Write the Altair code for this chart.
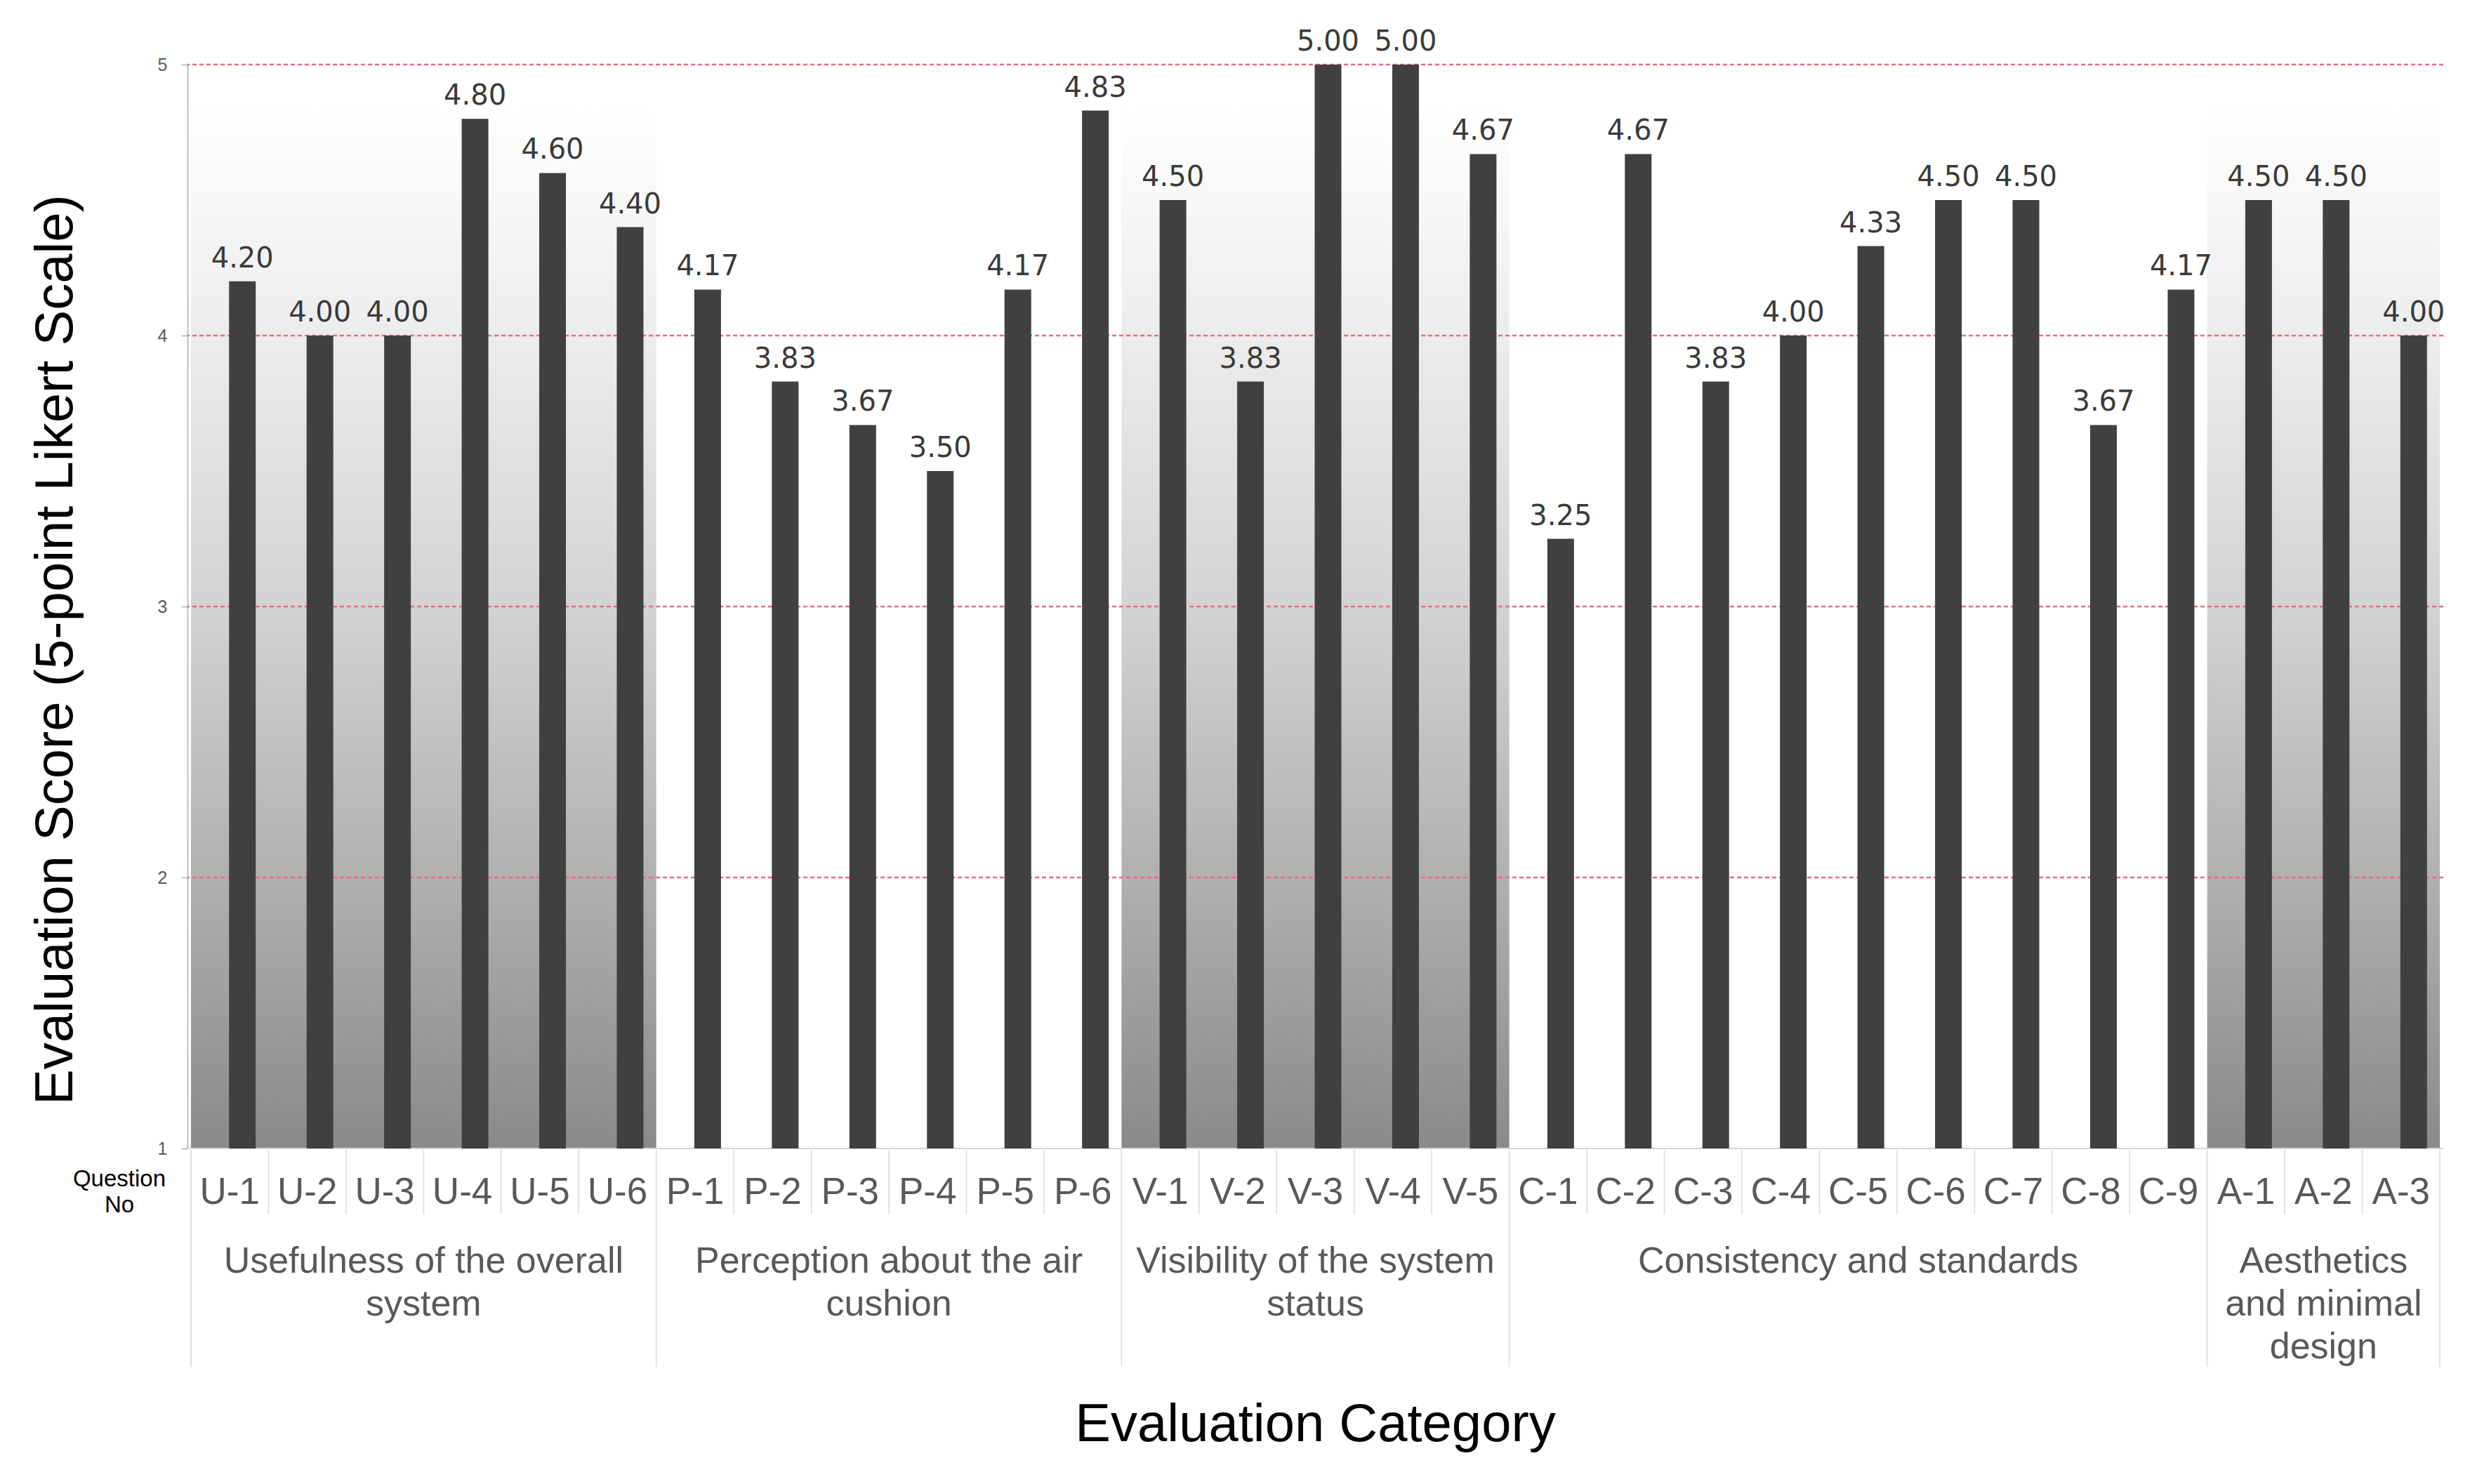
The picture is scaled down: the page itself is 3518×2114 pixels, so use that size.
import altair as alt
import pandas as pd

# ---------------- data ----------------
group_names = [
    "Usefulness of the overall\nsystem",
    "Perception about the air\ncushion",
    "Visibility of the system\nstatus",
    "Consistency and standards",
    "Aesthetics\nand minimal\ndesign",
]
group_prefix = ["U", "P", "V", "C", "A"]
group_shaded = [True, False, True, False, True]

scores_U = [4.20, 4.00, 4.00, 4.80, 4.60, 4.40]
scores_P = [4.17, 3.83, 3.67, 3.50, 4.17, 4.83]
scores_V = [4.50, 3.83, 5.00, 5.00, 4.67]
scores_C = [3.25, 4.67, 3.83, 4.00, 4.33, 4.50, 4.50, 3.67, 4.17]
scores_A = [4.50, 4.50, 4.00]
group_scores = [scores_U, scores_P, scores_V, scores_C, scores_A]

y_tick_values = [1, 2, 3, 4, 5]
grid_values = [2, 3, 4, 5]

y_title = "Evaluation Score (5-point Likert Scale)"
x_title = "Evaluation Category"
row_header = "Question\nNo"

# ---------------- tables ----------------
bar_rows, band_rows, sep_rows = [], [], []
idx = 0
for g, (name, pre, shade, vals) in enumerate(zip(group_names, group_prefix, group_shaded, group_scores)):
    start = idx
    for k, v in enumerate(vals):
        bar_rows.append({"mid": idx + 0.5, "q": f"{pre}-{k+1}", "score": v,
                         "label": f"{v:.2f}"})
        if k > 0:
            sep_rows.append({"pos": idx, "long": False})
        idx += 1
    band_rows.append({"start": start, "end": idx, "mid": (start + idx) / 2,
                      "name": name, "shaded": shade})
    sep_rows.append({"pos": start, "long": True})
sep_rows.append({"pos": idx, "long": True})
n_total = idx

bars_df = pd.DataFrame(bar_rows)
bands_df = pd.DataFrame(band_rows)
sep_df = pd.DataFrame(sep_rows)
grid_df = pd.DataFrame({"v": grid_values})

# ---------------- layout ----------------
W, H = 3213, 1544
FONT = "Liberation Sans"
BAR_SHIFT = 18

xs = alt.Scale(domain=[0, n_total], nice=False, zero=False)
ys = alt.Scale(domain=[1, 5], nice=False, zero=False)

y_axis = alt.Axis(
    values=y_tick_values, grid=False,
    domainColor="#b4c2d2", domainWidth=2,
    tickColor="#b4c2d2", tickSize=9, tickWidth=2,
    labelPadding=20, labelFontSize=25, labelColor="#595959", labelFont=FONT,
    title=y_title, titleFont=FONT, titleFontSize=76, titleFontWeight="normal",
    titleColor="#000000", titleX=-188, titleY=833, titleAngle=270,
    titleAlign="center", titleBaseline="middle",
)

gradient = alt.Gradient(
    gradient="linear",
    stops=[
        alt.GradientStop(offset=0.0, color="#ffffff"),
        alt.GradientStop(offset=0.22, color="#ececec"),
        alt.GradientStop(offset=0.48, color="#d3d3d3"),
        alt.GradientStop(offset=0.74, color="#b0b0b0"),
        alt.GradientStop(offset=1.0, color="#8a8a8a"),
    ],
    x1=0, x2=0, y1=0, y2=1,
)

band = alt.Chart(bands_df).transform_filter("datum.shaded").mark_rect(color=gradient).encode(
    x=alt.X("start:Q", scale=xs, axis=None),
    x2="end:Q",
    y=alt.value(60),
    y2=alt.value(H),
)

grid = alt.Chart(grid_df).mark_rule(color="#ee6a80", strokeDash=[6, 4], strokeWidth=2.5).encode(
    y=alt.Y("v:Q", scale=ys, axis=y_axis),
)

baseline = alt.Chart(pd.DataFrame({"v": [1]})).mark_rule(color="#cfd6e0", strokeWidth=2).encode(
    y=alt.Y("v:Q", scale=ys, axis=y_axis),
)

bars = alt.Chart(bars_df).mark_bar(size=38, color="#404040").encode(
    x=alt.X("mid:Q", scale=xs, axis=None),
    xOffset=alt.value(BAR_SHIFT),
    y=alt.Y("score:Q", scale=ys, axis=y_axis),
    y2=alt.datum(1),
)

values = alt.Chart(bars_df).mark_text(
    font="DejaVu Sans", fontSize=40, color="#3a3a3a", baseline="alphabetic",
    dy=-20, dx=BAR_SHIFT
).encode(
    x=alt.X("mid:Q", scale=xs, axis=None),
    y=alt.Y("score:Q", scale=ys, axis=y_axis),
    text="label:N",
)

seps_short = alt.Chart(sep_df).transform_filter("!datum.long").mark_rule(
    color="#e2e2e2", strokeWidth=2
).encode(
    x=alt.X("pos:Q", scale=xs, axis=None),
    y=alt.value(H + 2),
    y2=alt.value(H + 94),
)

seps_long = alt.Chart(sep_df).transform_filter("datum.long").mark_rule(
    color="#e2e2e2", strokeWidth=2
).encode(
    x=alt.X("pos:Q", scale=xs, axis=None),
    y=alt.value(H + 2),
    y2=alt.value(H + 311),
)

qlabels = alt.Chart(bars_df).mark_text(
    font=FONT, fontSize=53, color="#595959", baseline="middle"
).encode(
    x=alt.X("mid:Q", scale=xs, axis=None),
    y=alt.value(H + 63),
    text="q:N",
)

glabels = alt.Chart(bands_df).mark_text(
    font=FONT, fontSize=52, color="#595959", baseline="top", lineBreak="\n", lineHeight=61
).encode(
    x=alt.X("mid:Q", scale=xs, axis=None),
    y=alt.value(H + 136),
    text="name:N",
)

header = alt.Chart(pd.DataFrame({"t": [row_header]})).mark_text(
    font=FONT, fontSize=33, color="#000000", baseline="middle", lineBreak="\n", lineHeight=37
).encode(
    x=alt.value(-97),
    y=alt.value(H + 44),
    text="t:N",
)

xtitle = alt.Chart(pd.DataFrame({"t": [x_title]})).mark_text(
    font=FONT, fontSize=76, color="#000000", baseline="middle"
).encode(
    x=alt.value(W / 2),
    y=alt.value(H + 394),
    text="t:N",
)

chart = alt.layer(
    band, grid, baseline, bars, values, seps_short, seps_long, qlabels, glabels, header, xtitle
).properties(
    width=W, height=H,
    autosize=alt.AutoSizeParams(type="none"),
    padding={"left": 259, "top": 84, "right": 30, "bottom": 465},
    background="#ffffff",
).configure_view(stroke=None)

chart.save("out.html", embed_options={"renderer": "svg", "actions": False})
